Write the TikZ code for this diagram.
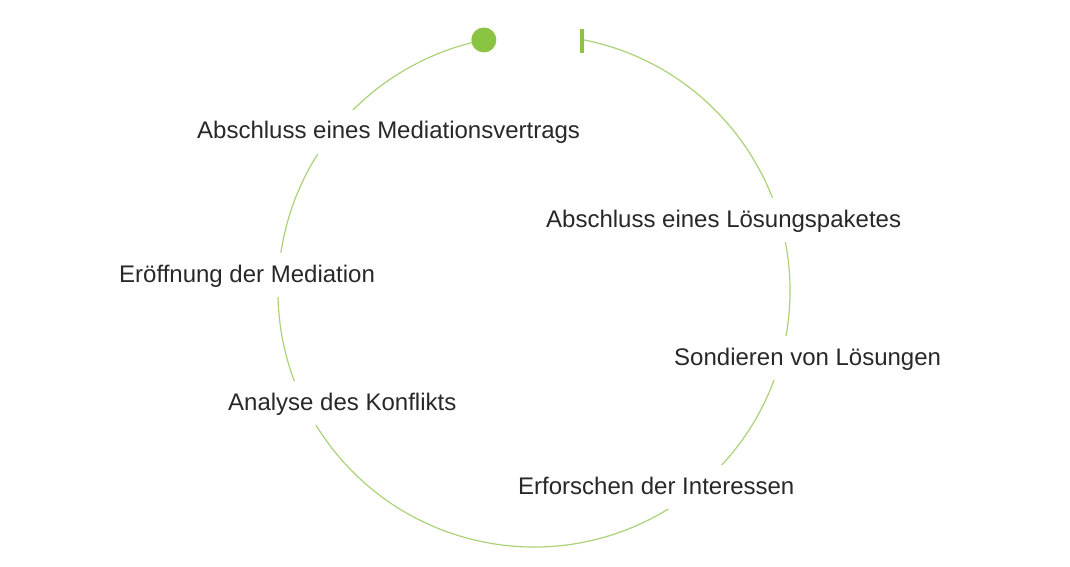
\documentclass[tikz,border=0pt]{standalone}
\usepackage{fontspec}
\setmainfont{Liberation Sans}
\definecolor{ringgreen}{RGB}{172,210,120}
\definecolor{markgreen}{RGB}{139,195,66}
\definecolor{labeltext}{RGB}{40,40,40}
\tikzset{
  ring/.style={draw=ringgreen, line width=1.2pt},
  steplabel/.style={anchor=base west, fill=white, text=labeltext,
    font=\fontsize{24}{28}\selectfont, text height=18pt, text depth=4pt,
    inner xsep=2pt, inner ysep=11pt},
}
\begin{document}
\begin{tikzpicture}[x=1pt,y=1pt]
\useasboundingbox[fill=white] (0,0) rectangle (1070,566);
% ring from the tick, clockwise, to the start dot
\coordinate (c) at (534,275);
\draw[ring] (c) ++(79.2:256) coordinate (tickpt) arc[start angle=79.2, end angle=-258.7, radius=256] coordinate (dotpt);
% start dot and end tick
\fill[markgreen] (dotpt) circle[radius=12.5];
\coordinate (ticktop) at (582,537);
\coordinate (tickbot) at (582,513);
\draw[markgreen, line width=3.3pt] (ticktop) -- (tickbot);
% labels
\node[steplabel] (s1) at (195,427) {Abschluss eines Mediationsvertrags};
\node[steplabel] (s2) at (544,339) {Abschluss eines Lösungspaketes};
\node[steplabel] (s3) at (117,284) {Eröffnung der Mediation};
\node[steplabel] (s4) at (672,201) {Sondieren von Lösungen};
\node[steplabel] (s5) at (226,156) {Analyse des Konflikts};
\node[steplabel] (s6) at (516,72) {Erforschen der Interessen};
\end{tikzpicture}
\end{document}
